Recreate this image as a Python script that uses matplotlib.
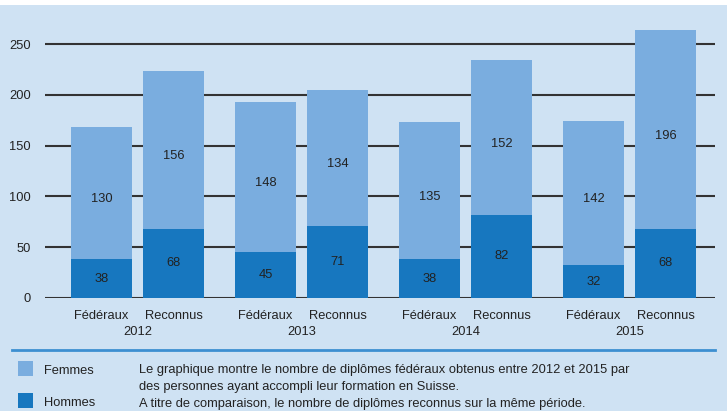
import matplotlib.pyplot as plt
import numpy as np
from matplotlib.patches import Rectangle
from matplotlib.lines import Line2D

# data
years = ['2012', '2013', '2014', '2015']
categories = ['Fédéraux', 'Reconnus']
hommes_fed = [38, 45, 38, 32]
femmes_fed = [130, 148, 135, 142]
hommes_rec = [68, 71, 82, 68]
femmes_rec = [156, 134, 152, 196]
yticks = [0, 50, 100, 150, 200, 250]

bg = '#cfe2f3'
light = '#7aaddf'
dark = '#1777bf'
txt = '#222222'
fs = 9.3

plt.rcParams['font.family'] = ['Liberation Sans', 'DejaVu Sans']

fig = plt.figure(figsize=(7.27, 4.11), dpi=100)
fig.patch.set_facecolor(bg)
fig.patches.append(Rectangle((0, 1 - 5 / 411), 1, 5 / 411, transform=fig.transFigure,
                             facecolor='white', edgecolor='none'))

ax = fig.add_axes([45 / 727, 0.275, 670 / 727, 0.667])
ax.set_facecolor('none')

x = np.arange(len(years))
w = 0.372
off = 0.2195

for pos, h, f in [(x - off, hommes_fed, femmes_fed), (x + off, hommes_rec, femmes_rec)]:
    ax.bar(pos, h, w, color=dark, zorder=3)
    ax.bar(pos, f, w, bottom=h, color=light, zorder=3)
    for xi, hv, fv in zip(pos, h, f):
        ax.text(xi, hv / 2, str(hv), ha='center', va='center', fontsize=fs, color=txt, zorder=4)
        ax.text(xi, hv + fv / 2 - 6, str(fv), ha='center', va='center', fontsize=fs, color=txt, zorder=4)

for yv in yticks:
    ax.axhline(yv, color='#333333', lw=1.5, zorder=2)

ax.set_xlim(-0.564, 3.521)
ax.set_ylim(0, 270)
ax.set_yticks(yticks)
ax.set_yticklabels([str(v) for v in yticks], fontsize=fs, color=txt)
ticks = np.concatenate([x - off, x + off])
labels = [categories[0]] * len(x) + [categories[1]] * len(x)
ax.set_xticks(ticks)
ax.set_xticklabels(labels, fontsize=fs, color=txt)
ax.tick_params(length=0, pad=9)
ax.tick_params(axis='y', pad=10)
for s in ax.spines.values():
    s.set_visible(False)

for xi, yr in zip(x, years):
    ax.text(xi, -0.125, yr, transform=ax.get_xaxis_transform(), ha='center', va='center',
            fontsize=fs, color=txt)

# legend area
fig.add_artist(Line2D([12 / 727, 715 / 727], [1 - 350 / 411] * 2, transform=fig.transFigure,
                      color='#3d8fd1', lw=2))
for yy, col, name in [(368.5, light, 'Femmes'), (400.5, dark, 'Hommes')]:
    fig.patches.append(Rectangle((18 / 727, 1 - (yy + 7.5) / 411), 15 / 727, 15 / 411,
                                 transform=fig.transFigure, facecolor=col, edgecolor='none'))
    fig.text(44 / 727, 1 - (yy + 2) / 411, name, fontsize=fs, color=txt, va='center')

notes = ['Le graphique montre le nombre de diplômes fédéraux obtenus entre 2012 et 2015 par',
         'des personnes ayant accompli leur formation en Suisse.',
         'A titre de comparaison, le nombre de diplômes reconnus sur la même période.']
for i, line in enumerate(notes):
    fig.text(139 / 727, 1 - (370 + 17 * i) / 411, line, fontsize=fs, color=txt, va='center')

fig.savefig('out.png', dpi=100)
